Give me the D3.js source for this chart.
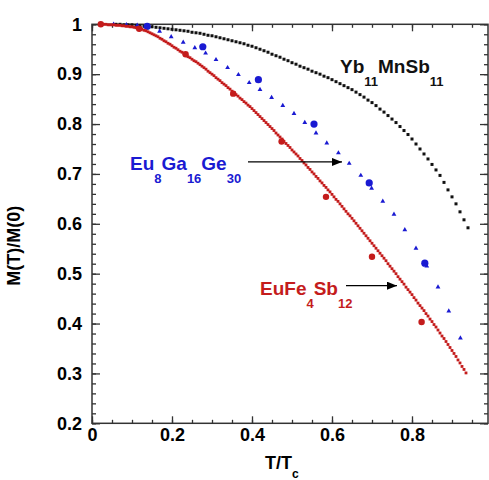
<!DOCTYPE html>
<html>
<head>
<meta charset="utf-8">
<script src="https://cdn.jsdelivr.net/npm/d3@7"></script>
<style>
  body { margin: 0; background: #fff; }
  svg { display: block; font-family: "Liberation Sans", Arial, sans-serif; }
</style>
</head>
<body>
<svg id="chart" width="489" height="480"></svg>
<script>
// Yb11MnSb11 (black squares)
const ybMnSb = [
  [0.06,1.000],[0.07,1.000],[0.08,0.999],[0.09,0.999],[0.10,0.999],[0.11,0.998],[0.12,0.997],[0.13,0.996],[0.14,0.996],[0.15,0.995],
  [0.16,0.994],[0.17,0.993],[0.18,0.992],[0.19,0.991],[0.20,0.990],[0.21,0.989],[0.22,0.988],[0.23,0.987],[0.24,0.986],[0.25,0.984],
  [0.26,0.983],[0.27,0.982],[0.28,0.980],[0.29,0.978],[0.30,0.977],[0.31,0.975],[0.32,0.973],[0.33,0.971],[0.34,0.969],[0.35,0.967],
  [0.36,0.965],[0.37,0.963],[0.38,0.961],[0.39,0.958],[0.40,0.956],[0.41,0.953],[0.42,0.950],[0.43,0.947],[0.44,0.944],[0.45,0.940],
  [0.46,0.937],[0.47,0.934],[0.48,0.930],[0.49,0.927],[0.50,0.923],[0.51,0.920],[0.52,0.916],[0.53,0.913],[0.54,0.910],[0.55,0.906],
  [0.56,0.903],[0.57,0.900],[0.58,0.896],[0.59,0.893],[0.60,0.889],[0.61,0.885],[0.62,0.881],[0.63,0.877],[0.64,0.873],[0.65,0.869],
  [0.66,0.864],[0.67,0.859],[0.68,0.854],[0.69,0.848],[0.70,0.843],[0.71,0.837],[0.72,0.830],[0.73,0.824],[0.74,0.817],[0.75,0.810],
  [0.76,0.803],[0.77,0.795],[0.78,0.787],[0.79,0.779],[0.80,0.770],[0.81,0.760],[0.82,0.750],[0.83,0.740],[0.84,0.730],[0.85,0.719],
  [0.86,0.708],[0.87,0.697],[0.88,0.683],[0.89,0.668],[0.90,0.654],[0.91,0.640],[0.92,0.624],[0.93,0.608],[0.94,0.592]
];

// Eu8Ga16Ge30 (small blue triangles, large blue circles)
const euGaGe = [
  [0.054,1.000],[0.086,0.999],[0.113,0.998],[0.141,0.995],[0.169,0.986],[0.198,0.975],[0.228,0.964],[0.257,0.953],
  [0.284,0.942],[0.310,0.929],[0.339,0.913],[0.366,0.899],[0.393,0.883],[0.420,0.869],[0.449,0.853],[0.477,0.837],
  [0.505,0.821],[0.532,0.803],[0.560,0.782],[0.587,0.762],[0.616,0.742],[0.643,0.721],[0.672,0.697],[0.699,0.671],
  [0.727,0.645],[0.755,0.619],[0.782,0.588],[0.810,0.551],[0.837,0.515],[0.865,0.473],[0.892,0.425],[0.921,0.371]
];
const euGaGeBig = [[0.138,0.996],[0.277,0.955],[0.416,0.889],[0.555,0.800],[0.693,0.682],[0.832,0.521]];

// EuFe4Sb12 (small red squares, large red circles)
const euFeSb = [
  [0.020,1.000],[0.025,1.000],[0.030,1.000],[0.035,1.000],[0.040,0.999],[0.045,0.999],[0.050,0.999],[0.055,0.999],
  [0.060,0.998],[0.065,0.998],[0.070,0.998],[0.075,0.997],[0.080,0.997],[0.085,0.996],[0.090,0.996],[0.095,0.995],
  [0.100,0.995],[0.105,0.994],[0.110,0.993],[0.115,0.992],[0.120,0.991],[0.125,0.990],[0.130,0.988],[0.135,0.987],
  [0.140,0.985],[0.145,0.983],[0.150,0.981],[0.155,0.979],[0.160,0.977],[0.165,0.975],[0.170,0.972],[0.175,0.970],
  [0.180,0.967],[0.185,0.965],[0.190,0.962],[0.195,0.960],[0.200,0.957],[0.205,0.954],[0.210,0.952],[0.215,0.949],
  [0.220,0.946],[0.225,0.944],[0.230,0.941],[0.235,0.938],[0.240,0.935],[0.245,0.933],[0.250,0.930],[0.255,0.927],
  [0.260,0.925],[0.265,0.922],[0.270,0.919],[0.275,0.916],[0.280,0.913],[0.285,0.910],[0.290,0.906],[0.295,0.903],
  [0.300,0.900],[0.305,0.897],[0.310,0.893],[0.315,0.890],[0.320,0.887],[0.325,0.883],[0.330,0.880],[0.335,0.877],
  [0.340,0.873],[0.345,0.870],[0.350,0.866],[0.355,0.863],[0.360,0.859],[0.365,0.856],[0.370,0.852],[0.375,0.849],
  [0.380,0.845],[0.385,0.842],[0.390,0.838],[0.395,0.835],[0.400,0.831],[0.405,0.827],[0.410,0.823],[0.415,0.819],
  [0.420,0.815],[0.425,0.811],[0.430,0.807],[0.435,0.803],[0.440,0.799],[0.445,0.795],[0.450,0.791],[0.455,0.787],
  [0.460,0.782],[0.465,0.778],[0.470,0.774],[0.475,0.770],[0.480,0.765],[0.485,0.761],[0.490,0.757],[0.495,0.753],
  [0.500,0.748],[0.505,0.744],[0.510,0.740],[0.515,0.736],[0.520,0.731],[0.525,0.727],[0.530,0.722],[0.535,0.718],
  [0.540,0.713],[0.545,0.709],[0.550,0.704],[0.555,0.700],[0.560,0.695],[0.565,0.691],[0.570,0.686],[0.575,0.682],
  [0.580,0.677],[0.585,0.673],[0.590,0.668],[0.595,0.664],[0.600,0.659],[0.605,0.654],[0.610,0.649],[0.615,0.645],
  [0.620,0.640],[0.625,0.635],[0.630,0.630],[0.635,0.625],[0.640,0.620],[0.645,0.616],[0.650,0.611],[0.655,0.606],
  [0.660,0.601],[0.665,0.596],[0.670,0.591],[0.675,0.586],[0.680,0.581],[0.685,0.576],[0.690,0.571],[0.695,0.566],
  [0.700,0.561],[0.705,0.556],[0.710,0.551],[0.715,0.546],[0.720,0.541],[0.725,0.536],[0.730,0.531],[0.735,0.526],
  [0.740,0.520],[0.745,0.515],[0.750,0.510],[0.755,0.505],[0.760,0.500],[0.765,0.494],[0.770,0.489],[0.775,0.484],
  [0.780,0.479],[0.785,0.473],[0.790,0.468],[0.795,0.463],[0.800,0.458],[0.805,0.452],[0.810,0.447],[0.815,0.441],
  [0.820,0.436],[0.825,0.431],[0.830,0.426],[0.835,0.420],[0.840,0.415],[0.845,0.409],[0.850,0.404],[0.855,0.398],
  [0.860,0.393],[0.865,0.387],[0.870,0.381],[0.875,0.375],[0.880,0.370],[0.885,0.364],[0.890,0.358],[0.895,0.352],
  [0.900,0.346],[0.905,0.340],[0.910,0.334],[0.915,0.327],[0.920,0.321],[0.925,0.314],[0.930,0.308],[0.935,0.301]
];
const euFeSbBig = [[0.022,1.000],[0.118,0.991],[0.234,0.940],[0.353,0.861],[0.474,0.765],[0.585,0.654],[0.700,0.534],[0.824,0.403]];

const xTicks = [0, 0.2, 0.4, 0.6, 0.8];
const yTicks = [0.2, 0.3, 0.4, 0.5, 0.6, 0.7, 0.8, 0.9, 1];

const black = "#111", blue = "#1a1ad2", red = "#c41c1c";

const svg = d3.select("#chart");
const pLeft = 92, pRight = 488, pTop = 24.3, pBottom = 423.3;

const x = d3.scaleLinear().domain([0, 0.99]).range([pLeft, pRight]);
const y = d3.scaleLinear().domain([0.2, 1]).range([pBottom, pTop]);

// frame
svg.append("rect")
  .attr("x", pLeft).attr("y", pTop)
  .attr("width", pRight - pLeft).attr("height", pBottom - pTop)
  .attr("fill", "none").attr("stroke", "#333").attr("stroke-width", 1.5);

const minorX = d3.range(0, 0.99, 0.05);
const minorY = d3.range(0.2, 1.0001, 0.02);

function styleAxis(g) {
  g.select(".domain").remove();
  g.selectAll(".tick line").attr("stroke", "#333").attr("stroke-width", 1.3);
  g.selectAll("text").attr("fill", "#000")
    .style("font-size", "18px").style("font-weight", "bold");
}

// bottom
svg.append("g").attr("transform", `translate(0,${pBottom})`)
  .call(d3.axisBottom(x).tickValues(minorX).tickSize(-3.5).tickFormat(""))
  .call(styleAxis);
svg.append("g").attr("transform", `translate(0,${pBottom})`)
  .call(d3.axisBottom(x).tickValues(xTicks).tickSize(-7).tickPadding(5).tickFormat(d3.format("~g")))
  .call(styleAxis);
// top
svg.append("g").attr("transform", `translate(0,${pTop})`)
  .call(d3.axisTop(x).tickValues(minorX).tickSize(-3.5).tickFormat(""))
  .call(styleAxis);
svg.append("g").attr("transform", `translate(0,${pTop})`)
  .call(d3.axisTop(x).tickValues(xTicks).tickSize(-7).tickFormat(""))
  .call(styleAxis);
// left
svg.append("g").attr("transform", `translate(${pLeft},0)`)
  .call(d3.axisLeft(y).tickValues(minorY).tickSize(-4).tickFormat(""))
  .call(styleAxis);
svg.append("g").attr("transform", `translate(${pLeft},0)`)
  .call(d3.axisLeft(y).tickValues(yTicks).tickSize(-8).tickPadding(10).tickFormat(d3.format("~g")))
  .call(styleAxis);
// right
svg.append("g").attr("transform", `translate(${pRight},0)`)
  .call(d3.axisRight(y).tickValues(minorY).tickSize(-4).tickFormat(""))
  .call(styleAxis);
svg.append("g").attr("transform", `translate(${pRight},0)`)
  .call(d3.axisRight(y).tickValues(yTicks).tickSize(-8).tickFormat(""))
  .call(styleAxis);

// axis titles
svg.append("text")
  .attr("transform", `translate(20,${(pTop + pBottom) / 2 + 22}) rotate(-90)`)
  .attr("text-anchor", "middle")
  .style("font-size", "18px").style("font-weight", "bold")
  .text("M(T)/M(0)");

const xt = svg.append("text")
  .attr("x", 265).attr("y", 469)
  .style("font-size", "18px").style("font-weight", "bold");
xt.append("tspan").text("T/T");
xt.append("tspan").attr("dy", 9).style("font-size", "12px").text("c");

// data marks
const plot = svg.append("g");

plot.selectAll(".yb").data(ybMnSb).enter().append("rect")
  .attr("x", d => x(d[0]) - 1.5).attr("y", d => y(d[1]) - 1.5)
  .attr("width", 3).attr("height", 3).attr("fill", black);

plot.selectAll(".eg").data(euGaGe).enter().append("path")
  .attr("transform", d => `translate(${x(d[0])},${y(d[1])})`)
  .attr("d", d3.symbol(d3.symbolTriangle, 10))
  .attr("fill", blue);

plot.selectAll(".egb").data(euGaGeBig).enter().append("circle")
  .attr("cx", d => x(d[0])).attr("cy", d => y(d[1])).attr("r", 3.6)
  .attr("fill", blue);

plot.selectAll(".ef").data(euFeSb).enter().append("rect")
  .attr("x", d => x(d[0]) - 1.4).attr("y", d => y(d[1]) - 1.4)
  .attr("width", 2.8).attr("height", 2.8).attr("fill", red);

plot.selectAll(".efb").data(euFeSbBig).enter().append("circle")
  .attr("cx", d => x(d[0])).attr("cy", d => y(d[1])).attr("r", 3.2)
  .attr("fill", red);

// arrows
svg.append("defs").append("marker")
  .attr("id", "head").attr("viewBox", "0 0 10 8")
  .attr("refX", 10).attr("refY", 4)
  .attr("markerWidth", 10).attr("markerHeight", 8)
  .attr("markerUnits", "userSpaceOnUse").attr("orient", "auto")
  .append("path").attr("d", "M0,0 L10,4 L0,8 Z").attr("fill", "#000");

const arrows = [
  { x1: 0.39, x2: 0.625, y: 0.724 },
  { x1: 0.635, x2: 0.7625, y: 0.476 }
];
svg.selectAll(".arrow").data(arrows).enter().append("line")
  .attr("x1", d => x(d.x1)).attr("x2", d => x(d.x2))
  .attr("y1", d => y(d.y)).attr("y2", d => y(d.y))
  .attr("stroke", "#000").attr("stroke-width", 1.3)
  .attr("marker-end", "url(#head)");

// compound labels
function formula(parts, tx, ty, color) {
  const t = svg.append("text")
    .attr("x", x(tx)).attr("y", y(ty))
    .attr("fill", color)
    .style("font-size", "19px").style("font-weight", "bold");
  parts.forEach((p, i) => {
    const sub = i % 2 === 1;
    t.append("tspan")
      .attr("dy", i === 0 ? 0 : (sub ? 13 : -13))
      .style("font-size", sub ? "13px" : "19px")
      .text(p);
  });
}
formula(["Yb", "11", "MnSb", "11"], 0.62, 0.902, black);
formula(["Eu", "8", "Ga", "16", "Ge", "30"], 0.095, 0.708, blue);
formula(["EuFe", "4", "Sb", "12"], 0.42, 0.4575, red);
</script>
</body>
</html>
